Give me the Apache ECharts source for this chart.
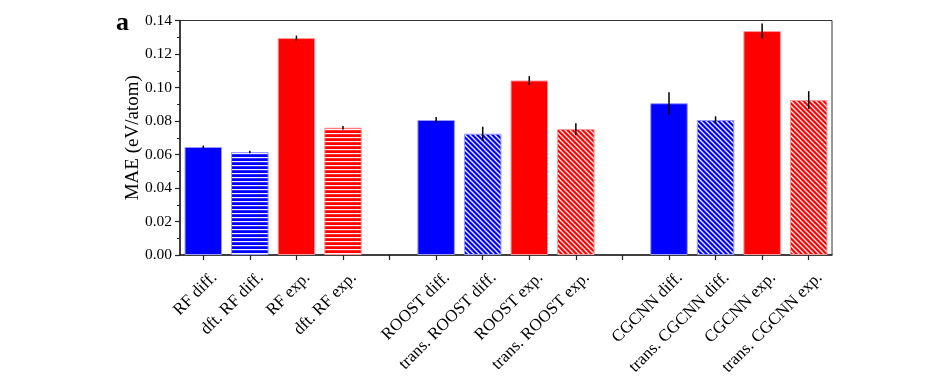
<!DOCTYPE html>
<html><head><meta charset="utf-8">
<script src="https://cdn.jsdelivr.net/npm/echarts@6/dist/echarts.min.js"></script>
<style>html,body{margin:0;padding:0;background:#fff}#c{width:933px;height:389px}</style>
</head><body><div id="c"></div>
<script>
const categories = ['RF diff.', 'dft. RF diff.', 'RF exp.', 'dft. RF exp.', '',
  'ROOST diff.', 'trans. ROOST diff.', 'ROOST exp.', 'trans. ROOST exp.', '',
  'CGCNN diff.', 'trans. CGCNN diff.', 'CGCNN exp.', 'trans. CGCNN exp.'];
const maeValues = [0.0645, 0.0615, 0.1295, 0.0760, null,
  0.0806, 0.0724, 0.1042, 0.0752, null,
  0.0906, 0.0806, 0.1337, 0.0925];
const maeErrors = [0.0008, 0.0008, 0.0015, 0.0010, null,
  0.0018, 0.0042, 0.0026, 0.0034, null,
  0.0066, 0.0022, 0.0045, 0.0053];
const yTicks = [0, 0.02, 0.04, 0.06, 0.08, 0.10, 0.12, 0.14];

const BLUE = '#0000ff', RED = '#ff0000';
function hPattern(base) {
  const c = document.createElement('canvas'); c.width = 4; c.height = 4;
  const g = c.getContext('2d');
  g.fillStyle = base; g.fillRect(0, 0, 4, 4);
  g.fillStyle = 'rgba(255,255,255,0.95)'; g.fillRect(0, 1, 4, 1.2);
  return { image: c, repeat: 'repeat' };
}
function dPattern(base) {
  const s = 5;
  const c = document.createElement('canvas'); c.width = s; c.height = s;
  const g = c.getContext('2d');
  g.fillStyle = base; g.fillRect(0, 0, s, s);
  g.strokeStyle = 'rgba(255,255,255,0.95)'; g.lineWidth = 1.3;
  g.beginPath();
  for (const o of [-s, 0, s]) { g.moveTo(o - 1, -1); g.lineTo(o + s + 1, s + 1); }
  g.stroke();
  return { image: c, repeat: 'repeat' };
}
function styleFor(name) {
  const isExp = name.indexOf('exp') >= 0;
  const base = isExp ? RED : BLUE;
  const border = isExp ? '#ff9a9a' : '#9a9aff';
  let color = base;
  if (name.startsWith('dft.')) color = hPattern(base);
  else if (name.startsWith('trans.')) color = dPattern(base);
  return { color: color, borderColor: border, borderWidth: 1 };
}

const barData = maeValues.map((v, i) => v == null ? '-' : { value: v, itemStyle: styleFor(categories[i]) });
const errData = maeValues.map((v, i) => v == null ? null : [i, v, maeErrors[i]]).filter(d => d);

const chart = echarts.init(document.getElementById('c'), null, { renderer: 'canvas' });
const FONT = 'Liberation Serif';
chart.setOption({
  animation: false,
  backgroundColor: '#fff',
  grid: { left: 180, right: 101, top: 20.5, bottom: 134, show: true, borderColor: '#333', borderWidth: 1, backgroundColor: 'transparent', outerBoundsMode: 'none' },
  graphic: [{ type: 'text', left: 116, top: 10, style: { text: 'a', font: 'bold 26px "Liberation Serif"', fill: '#000' } }],
  xAxis: {
    type: 'category', data: categories, boundaryGap: true,
    axisLine: { lineStyle: { color: '#222', width: 1.5 } },
    axisTick: { show: true, alignWithLabel: true, interval: 0, length: 5, lineStyle: { color: '#222', width: 1.2 } },
    axisLabel: { interval: 0, rotate: 45, margin: 9, fontFamily: FONT, fontSize: 17, color: '#000', verticalAlign: 'top', align: 'right', padding: [7, 0, 0, 0] }
  },
  yAxis: {
    type: 'value', min: 0, max: 0.14, interval: 0.02,
    name: 'MAE (eV/atom)', nameLocation: 'middle', nameGap: 37, nameMoveOverlap: false,
    nameTextStyle: { fontFamily: FONT, fontSize: 19, color: '#000' },
    axisLine: { show: true, lineStyle: { color: '#222', width: 1.5 } },
    axisTick: { show: true, length: 5, lineStyle: { color: '#222', width: 1.2 } },
    minorTick: { show: true, splitNumber: 2, length: 3, lineStyle: { color: '#222', width: 1 } },
    splitLine: { show: false },
    axisLabel: { fontFamily: FONT, fontSize: 15.5, color: '#000', margin: 8, formatter: v => v.toFixed(2) }
  },
  series: [
    { type: 'bar', data: barData, barWidth: 37.5, z: 2 },
    { type: 'custom', data: errData, z: 5, encode: { x: 0, y: 1 },
      renderItem: function (params, api) {
        const i = api.value(0), v = api.value(1), e = api.value(2);
        const p1 = api.coord([i, v - e]), p2 = api.coord([i, v + e]);
        return { type: 'line', shape: { x1: p1[0], y1: p1[1], x2: p2[0], y2: p2[1] }, style: { stroke: '#000', lineWidth: 1.5 } };
      } }
  ]
});
</script></body></html>
